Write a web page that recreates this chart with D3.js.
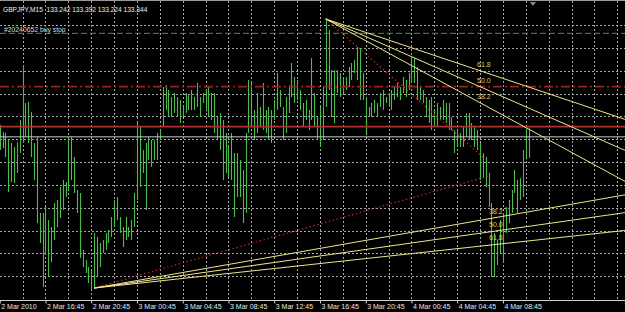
<!DOCTYPE html>
<html lang="en">
<head>
<meta charset="UTF-8" />
<title>GBPJPY,M15</title>
<script src="https://d3js.org/d3.v7.min.js"></script>
<style>
  body { margin: 0; background: #000; overflow: hidden; }
  svg { display: block; font-family: "Liberation Sans", Arial, sans-serif; }
</style>
</head>
<body>
<div id="chart"></div>
<script>
  const width = 625, height = 312, plotBottom = 300;

  const headerText = "GBPJPY,M15  133.242 133.392 133.224 133.344";
  const orderLabel = "#20240652 buy stop";

  // M15 bars, 2 Mar 2010 12:45 onwards (high / low)
  const barHigh = [
    133.411, 133.371, 133.366, 133.326, 133.309, 133.286, 133.314, 133.440, 133.753, 133.537,
    133.543, 133.485, 133.309, 133.343, 132.910, 132.910, 132.944, 132.870, 132.830, 132.967,
    132.984, 133.058, 133.098, 133.086, 133.343, 133.343, 133.229, 133.041, 133.024, 132.699,
    132.642, 132.602, 132.585, 132.796, 132.773, 132.739, 132.756, 132.796, 132.813, 132.887,
    132.984, 133.001, 132.887, 132.830, 132.887, 132.830, 132.870, 133.024, 133.423, 133.400,
    133.269, 133.309, 133.343, 133.326, 133.326, 133.366, 133.383, 133.628, 133.639, 133.611,
    133.571, 133.594, 133.571, 133.554, 133.514, 133.594, 133.582, 133.611, 133.571, 133.651,
    133.571, 133.594, 133.611, 133.628, 133.594, 133.594, 133.457, 133.480, 133.440, 133.366,
    133.286, 133.366, 133.252, 133.252, 133.212, 133.155, 133.366, 133.668, 133.651, 133.497,
    133.594, 133.514, 133.651, 133.497, 133.514, 133.497, 133.554, 133.708, 133.611, 133.514,
    133.571, 133.639, 133.765, 133.685, 133.668, 133.611, 133.537, 133.554, 133.497, 133.793,
    133.594, 133.457, 133.514, 133.628, 134.016, 133.953, 133.725, 133.725, 133.725, 133.708,
    133.685, 133.685, 133.742, 133.765, 133.782, 133.856, 133.850, 133.708, 133.571, 133.514,
    133.537, 133.554, 133.537, 133.594, 133.611, 133.571, 133.594, 133.611, 133.628, 133.651,
    133.628, 133.685, 133.668, 133.708, 133.799, 133.793, 133.742, 133.628, 133.611, 133.571,
    133.554, 133.571, 133.497, 133.537, 133.514, 133.554, 133.537, 133.537, 133.457, 133.383,
    133.383, 133.366, 133.400, 133.480, 133.480, 133.423, 133.400, 133.383, 133.309, 133.252,
    133.229, 133.138, 132.967, 132.796, 132.756, 132.870, 132.910, 132.944, 132.984, 133.041,
    133.155, 133.098, 133.109, 133.269, 133.383, 133.392
  ];
  const barLow = [
    133.269, 133.280, 133.229, 133.029, 133.086, 133.081, 133.138, 133.252, 133.309, 133.343,
    133.309, 133.229, 133.098, 132.853, 132.739, 132.488, 132.670, 132.545, 132.630, 132.756,
    132.830, 132.881, 132.927, 133.001, 133.041, 133.098, 133.024, 132.910, 132.653, 132.602,
    132.568, 132.511, 132.471, 132.482, 132.545, 132.602, 132.682, 132.699, 132.739, 132.773,
    132.830, 132.870, 132.796, 132.716, 132.756, 132.773, 132.756, 132.830, 132.984, 133.058,
    133.138, 132.927, 133.212, 133.172, 133.212, 133.212, 133.326, 133.400, 133.497, 133.457,
    133.457, 133.480, 133.457, 133.423, 133.457, 133.480, 133.497, 133.497, 133.497, 133.514,
    133.457, 133.537, 133.497, 133.457, 133.440, 133.366, 133.326, 133.269, 133.098, 133.138,
    133.115, 133.098, 132.887, 133.001, 133.001, 132.853, 132.910, 133.366, 133.400, 133.326,
    133.366, 133.400, 133.383, 133.366, 133.326, 133.309, 133.440, 133.497, 133.514, 133.326,
    133.366, 133.480, 133.571, 133.537, 133.554, 133.497, 133.400, 133.440, 133.383, 133.440,
    133.400, 133.326, 133.286, 133.326, 133.514, 133.611, 133.457, 133.423, 133.594, 133.571,
    133.594, 133.611, 133.628, 133.668, 133.708, 133.668, 133.554, 133.554, 133.366, 133.457,
    133.457, 133.480, 133.457, 133.514, 133.497, 133.537, 133.514, 133.497, 133.554, 133.571,
    133.554, 133.594, 133.571, 133.611, 133.651, 133.651, 133.554, 133.554, 133.537, 133.457,
    133.423, 133.383, 133.400, 133.400, 133.440, 133.440, 133.423, 133.383, 133.383, 133.252,
    133.286, 133.286, 133.286, 133.343, 133.326, 133.326, 133.286, 133.269, 133.098, 133.115,
    133.058, 132.944, 132.545, 132.545, 132.613, 132.682, 132.625, 132.796, 132.853, 132.910,
    133.024, 132.910, 132.984, 133.001, 133.229, 133.224
  ];

  const tickBars = [0, 16, 32, 48, 64, 80, 96, 112, 128, 144, 160, 176];
  const tickLabels = ["2 Mar 2010", "2 Mar 16:45", "2 Mar 20:45", "3 Mar 00:45", "3 Mar 04:45",
    "3 Mar 08:45", "3 Mar 12:45", "3 Mar 16:45", "3 Mar 20:45", "4 Mar 00:45", "4 Mar 04:45", "4 Mar 08:45"];
  const gridPrices = [133.98, 133.85, 133.72, 133.59, 133.46, 133.33, 133.20, 133.07, 132.94, 132.81, 132.68, 132.55];

  const buyStopPrice = 133.934;
  const dashDotPrice = 133.630;
  const redLinePrice = 133.402;
  const bidPrice = 133.344;

  const fanLevels = [38.2, 50.0, 61.8];
  const upperFan = [[114, 134.016], [169, 133.229]];
  const lowerFan = [[33, 132.482], [171, 133.121]];

  const svg = d3.select("#chart").append("svg")
    .attr("width", width)
    .attr("height", height);

  svg.append("rect").attr("width", width).attr("height", height).attr("fill", "#000");

  const x = d3.scaleLinear().domain([0, 218.7]).range([-0.25, 625]);
  const y = d3.scaleLinear().domain([132.414, 134.124]).range([plotBottom, 0]);

  const plot = svg.append("g");
  plot.append("clipPath").attr("id", "clip")
    .append("rect").attr("width", width).attr("height", plotBottom);

  // grid
  const vGrid = d3.range(8, 219, 8);
  plot.selectAll("line.vgrid").data(vGrid).enter().append("line")
    .attr("x1", d => Math.round(x(d)) + 0.5).attr("x2", d => Math.round(x(d)) + 0.5)
    .attr("y1", 1).attr("y2", plotBottom)
    .attr("stroke", "#a8a8a8").attr("stroke-dasharray", "2,2");
  plot.selectAll("line.hgrid").data(gridPrices).enter().append("line")
    .attr("x1", 0).attr("x2", width)
    .attr("y1", d => Math.round(y(d)) + 0.5).attr("y2", d => Math.round(y(d)) + 0.5)
    .attr("stroke", "#a8a8a8").attr("stroke-dasharray", "2,2");

  // top border
  svg.append("line").attr("x1", 0).attr("x2", width).attr("y1", 0.5).attr("y2", 0.5)
    .attr("stroke", "#9a9a9a");

  // bars
  plot.selectAll("line.bar").data(barHigh).enter().append("line")
    .attr("x1", (d, i) => Math.round(x(i)) + 0.5)
    .attr("x2", (d, i) => Math.round(x(i)) + 0.5)
    .attr("y1", d => y(d))
    .attr("y2", (d, i) => y(barLow[i]))
    .attr("stroke", "#4cbc4c")
    .attr("stroke-width", 1.1);

  // horizontal levels
  function hLine(price, color, dash, w) {
    plot.append("line")
      .attr("x1", 0).attr("x2", width)
      .attr("y1", y(price)).attr("y2", y(price))
      .attr("stroke", color).attr("stroke-width", w)
      .attr("stroke-dasharray", dash);
  }
  hLine(buyStopPrice, "#3f9a3f", "6,3", 1);
  hLine(dashDotPrice, "#9c2222", "9,3,2,3", 1.8);
  hLine(redLinePrice, "#b03030", null, 1.8);
  hLine(bidPrice, "#c4c8cc", null, 1);

  // fibonacci fans
  const fans = plot.append("g").attr("clip-path", "url(#clip)");
  function drawFan(fan, labelDx, anchor) {
    const [p1, p2] = fan;
    const x1 = x(p1[0]), y1 = y(p1[1]), x2 = x(p2[0]), y2 = y(p2[1]);
    fans.append("line")
      .attr("x1", x1).attr("y1", y1).attr("x2", x2).attr("y2", y2)
      .attr("stroke", "#c42a2a").attr("stroke-width", 1.2)
      .attr("stroke-dasharray", "1.5,2.5");
    fanLevels.forEach(level => {
      const ly = y(p2[1] + level / 100 * (p1[1] - p2[1]));
      const slope = (ly - y1) / (x2 - x1);
      fans.append("line")
        .attr("x1", x1).attr("y1", y1)
        .attr("x2", width).attr("y2", y1 + slope * (width - x1))
        .attr("stroke", "#eee68e").attr("stroke-width", 1);
      fans.append("text")
        .attr("x", x2 + labelDx).attr("y", ly - 5)
        .attr("text-anchor", anchor)
        .attr("fill", "#d9cc66")
        .style("font-size", "7px")
        .text(level.toFixed(1));
    });
  }
  drawFan(upperFan, 1, "middle");
  drawFan(lowerFan, 0.5, "start");

  // chart-shift marker
  const sx = x(186.5);
  svg.append("path")
    .attr("d", d3.line()([[sx - 3, 2], [sx + 3, 2], [sx, 6]]) + "Z")
    .attr("fill", "#8a8a8a");

  // time axis
  const axis = svg.append("g")
    .attr("transform", `translate(0,${plotBottom + 0.5})`)
    .call(d3.axisBottom(x).tickValues(tickBars).tickSize(3).tickSizeOuter(0)
      .tickFormat((d, i) => tickLabels[i]));
  axis.select(".domain").attr("stroke", "#d0d0d0").attr("d", `M0,0H${width}`);
  axis.selectAll(".tick line").attr("stroke", "#d0d0d0");
  axis.selectAll(".tick text")
    .attr("fill", "#e8e8e8")
    .attr("text-anchor", "start")
    .attr("x", 1)
    .attr("y", 4)
    .style("font-size", "7px")
    .style("font-family", "'Liberation Sans', Arial, sans-serif");

  // texts
  svg.append("text").attr("x", 3).attr("y", 11.5)
    .attr("fill", "#f0f0f0").style("font-size", "6.6px")
    .style("white-space", "pre")
    .text(headerText);
  svg.append("text").attr("x", 4).attr("y", 31.5)
    .attr("fill", "#d8d8d8").style("font-size", "6.8px")
    .text(orderLabel);
</script>
</body>
</html>
